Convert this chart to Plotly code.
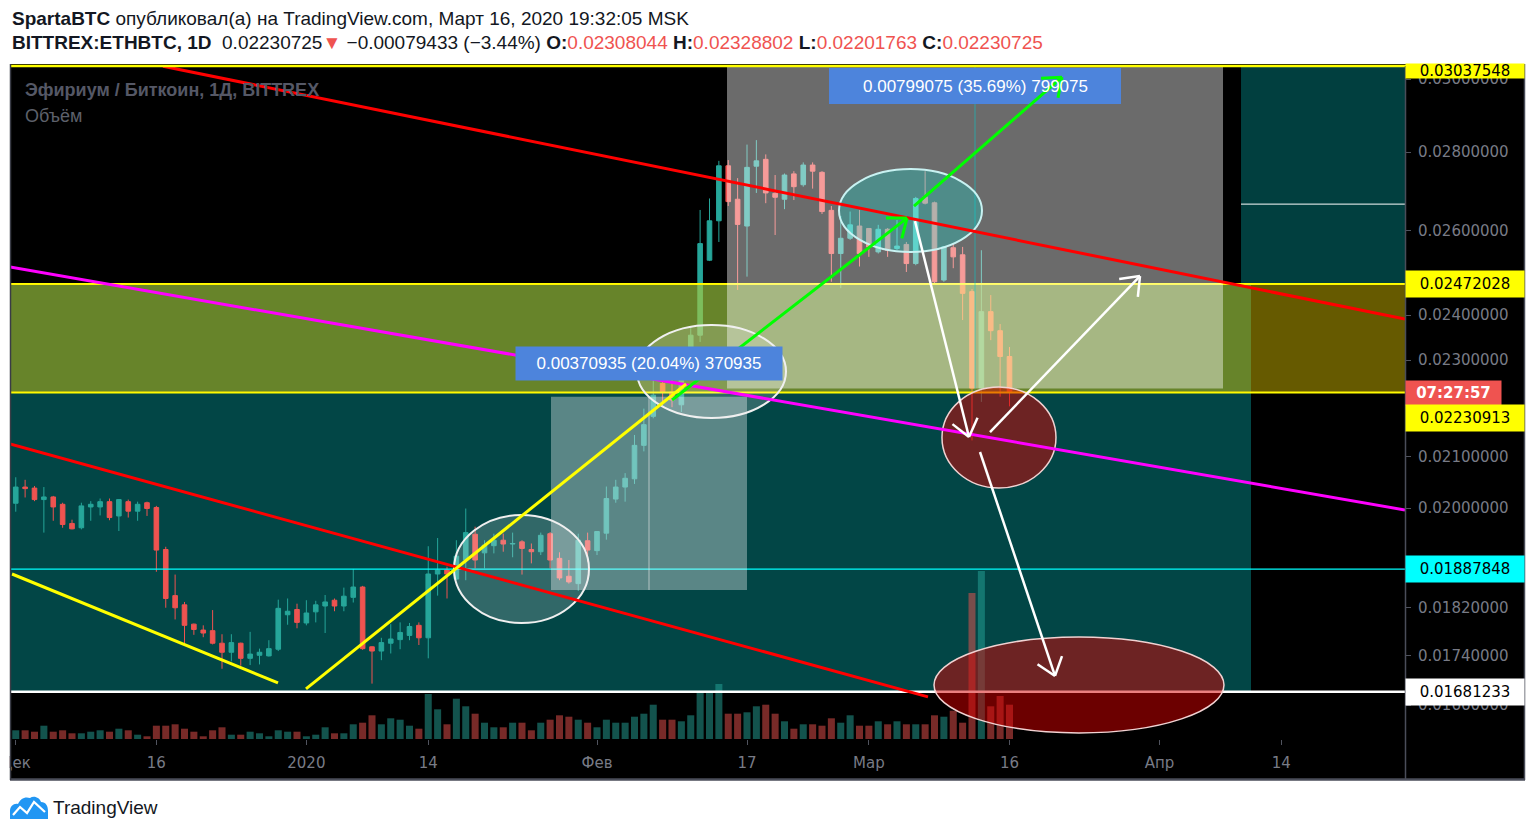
import numpy as np
import pandas as pd
import plotly.graph_objects as go

# ---------------- data ----------------
dates = pd.date_range("2019-12-01", "2020-03-16", freq="D")

opens = [0.02009, 0.02040, 0.02038, 0.02016, 0.02021, 0.02007, 0.01971, 0.01963, 0.02002, 0.02002,
         0.02012, 0.01985, 0.02012, 0.01994, 0.02010, 0.02001, 0.01923, 0.01841, 0.01825, 0.01792,
         0.01782, 0.01781, 0.01760, 0.01745, 0.01760, 0.01735, 0.01740, 0.01739, 0.01750, 0.01808,
         0.01817,
         0.01794, 0.01813, 0.01823, 0.01833, 0.01823, 0.01838, 0.01856, 0.01754, 0.01747, 0.01760,
         0.01766, 0.01773, 0.01790, 0.01769, 0.01879, 0.01886, 0.01870, 0.01904, 0.01951, 0.01917,
         0.01930, 0.01940, 0.01933, 0.01937, 0.01923, 0.01919, 0.01952, 0.01907, 0.01875, 0.01862,
         0.01939,
         0.01921, 0.01953, 0.02017, 0.02040, 0.02056, 0.02122, 0.02181, 0.02250, 0.02232, 0.02205,
         0.02285, 0.02355, 0.02528, 0.02624, 0.02764, 0.02678, 0.02611, 0.02763, 0.02781, 0.02693,
         0.02678, 0.02743, 0.02715, 0.02766, 0.02747, 0.02650, 0.02544, 0.02581, 0.02611,
         0.02605, 0.02548, 0.02603, 0.02556, 0.02566, 0.02520, 0.02684, 0.02669, 0.02481, 0.02558,
         0.02541, 0.02454, 0.02240, 0.02408, 0.02365, 0.02308044]
highs = [0.02059, 0.02054, 0.02042, 0.02040, 0.02023, 0.02010, 0.01978, 0.02010, 0.02013, 0.02018,
         0.02018, 0.02017, 0.02016, 0.02012, 0.02012, 0.02004, 0.01928, 0.01878, 0.01830, 0.01793,
         0.01790, 0.01816, 0.01775, 0.01775, 0.01761, 0.01779, 0.01751, 0.01765, 0.01834, 0.01836,
         0.01827,
         0.01833, 0.01832, 0.01842, 0.01836, 0.01855, 0.01888, 0.01858, 0.01755, 0.01769, 0.01792,
         0.01795, 0.01794, 0.01795, 0.01929, 0.01944, 0.01892, 0.01940, 0.01999, 0.01965, 0.01940,
         0.01952, 0.01952, 0.01954, 0.01940, 0.01934, 0.01954, 0.01955, 0.01918, 0.01904, 0.01952,
         0.01954,
         0.01957, 0.02041, 0.02054, 0.02067, 0.02143, 0.02197, 0.02262, 0.02280, 0.02262, 0.02300,
         0.02375, 0.02651, 0.02680, 0.02777, 0.02779, 0.02732, 0.02820, 0.02832, 0.02794, 0.02740,
         0.02744, 0.02750, 0.02773, 0.02773, 0.02750, 0.02661, 0.02636, 0.02647, 0.02651,
         0.02606, 0.02614, 0.02606, 0.02626, 0.02572, 0.02684, 0.02750, 0.02672, 0.02562, 0.02568,
         0.02560, 0.02460, 0.02552, 0.02446, 0.02380, 0.02328802]
lows = [0.01993, 0.02020, 0.02013, 0.01954, 0.01976, 0.01963, 0.01960, 0.01960, 0.01976, 0.01986,
        0.01977, 0.01957, 0.01982, 0.01976, 0.01985, 0.01883, 0.01820, 0.01800, 0.01760, 0.01774,
        0.01770, 0.01758, 0.01718, 0.01730, 0.01723, 0.01724, 0.01725, 0.01738, 0.01747, 0.01791,
        0.01785,
        0.01790, 0.01795, 0.01777, 0.01814, 0.01814, 0.01829, 0.01749, 0.01694, 0.01732, 0.01743,
        0.01750, 0.01765, 0.01757, 0.01735, 0.01841, 0.01836, 0.01868, 0.01868, 0.01889, 0.01889,
        0.01916, 0.01919, 0.01909, 0.01878, 0.01898, 0.01913, 0.01889, 0.01868, 0.01862, 0.01849,
        0.01901,
        0.01913, 0.01941, 0.02010, 0.02012, 0.02046, 0.02110, 0.02177, 0.02210, 0.02200, 0.02190,
        0.02270, 0.02340, 0.02526, 0.02572, 0.02661, 0.02458, 0.02489, 0.02694, 0.02668, 0.02589,
        0.02653, 0.02676, 0.02710, 0.02705, 0.02641, 0.02477, 0.02462, 0.02577, 0.02513,
        0.02536, 0.02544, 0.02536, 0.02552, 0.02500, 0.02516, 0.02665, 0.02473, 0.02477, 0.02509,
        0.02389, 0.02132, 0.02211, 0.02344, 0.02222, 0.02201763]
closes = [0.02040, 0.02037, 0.02016, 0.02021, 0.02002, 0.01969, 0.01961, 0.02004, 0.02007, 0.02012,
          0.01982, 0.02016, 0.01994, 0.02007, 0.01999, 0.01922, 0.01836, 0.01820, 0.01790, 0.01783,
          0.01777, 0.01760, 0.01745, 0.01761, 0.01735, 0.01742, 0.01745, 0.01751, 0.01819, 0.01814,
          0.01795,
          0.01811, 0.01825, 0.01830, 0.01823, 0.01840, 0.01856, 0.01751, 0.01747, 0.01761, 0.01767,
          0.01778, 0.01788, 0.01769, 0.01879, 0.01886, 0.01879, 0.01911, 0.01954, 0.01904, 0.01931,
          0.01940, 0.01933, 0.01934, 0.01925, 0.01919, 0.01949, 0.01904, 0.01872, 0.01865, 0.01940,
          0.01922,
          0.01956, 0.02018, 0.02040, 0.02057, 0.02122, 0.02164, 0.02225, 0.02232, 0.02215, 0.02285,
          0.02355, 0.02568, 0.02624, 0.02764, 0.02672, 0.02615, 0.02760, 0.02777, 0.02694, 0.02683,
          0.02740, 0.02710, 0.02766, 0.02750, 0.02647, 0.02544, 0.02581, 0.02614, 0.02544,
          0.02560, 0.02603, 0.02552, 0.02562, 0.02520, 0.02680, 0.02668, 0.02477, 0.02560, 0.02536,
          0.02450, 0.02240, 0.02408, 0.02365, 0.02308, 0.02230725]
volumes = [8.7, 8.7, 7.3, 13.3, 7.3, 8.7, 5.7, 5.7, 7.3, 8.7,
           7.3, 10.3, 8.7, 4.3, 2.7, 13.3, 13.3, 14.7, 10.3, 7.3,
           2.7, 8.7, 11.7, 4.3, 4.3, 7.3, 5.7, 2.7, 8.7, 7.3,
           7.3,
           2.7, 4.3, 11.7, 5.7, 5.7, 14.7, 16.3, 23.7, 14.7, 20.7,
           19.3, 13.3, 10.3, 45.0, 29.7, 14.7, 40.3, 32.7, 25.3, 16.3,
           11.7, 11.7, 16.3, 16.3, 8.7, 16.3, 19.3, 23.7, 22.3, 19.3,
           16.3,
           11.7, 19.3, 16.3, 16.3, 22.3, 25.3, 34.3, 19.3, 19.3, 17.7,
           23.7, 46.0, 46.0, 55.0, 25.3, 25.3, 26.7, 32.7, 34.3, 25.3,
           17.7, 10.3, 14.7, 14.7, 13.3, 20.7, 16.3, 23.7, 13.3,
           13.3, 17.7, 14.7, 17.7, 14.7, 14.7, 14.7, 23.7, 22.3, 28.3,
           16.3, 146.0, 168.0, 32.7, 43.0, 34.3]

x_tick_dates = ["2019-12-01", "2019-12-16", "2020-01-01", "2020-01-14", "2020-02-01",
                "2020-02-17", "2020-03-01", "2020-03-16", "2020-04-01", "2020-04-14"]
x_tick_text = ["Дек", "16", "2020", "14", "Фев", "17", "Мар", "16", "Апр", "14"]
y_tick_vals = [0.0166, 0.0174, 0.0182, 0.0200, 0.0210, 0.0230, 0.0240, 0.0260, 0.0280, 0.0300]

# ---- user drawings (date, price anchors) ----
red_upper = [("2019-12-16 17:00", 0.03037), ("2020-04-27 04:30", 0.02391)]
red_lower = [("2019-11-30 09:20", 0.021247), ("2020-03-07 07:20", 0.016729)]
magenta_line = [("2019-11-30 09:20", 0.025116), ("2020-04-27 04:30", 0.019963)]
yellow_down = [("2019-11-30 14:25", 0.018790), ("2019-12-28 23:20", 0.016951)]
yellow_up = [("2019-12-31 23:00", 0.016856), ("2020-02-10 12:10", 0.022487)]
green_arrows = [[("2020-02-09 00:00", 0.022149), ("2020-03-05 01:35", 0.026307)],
                [("2020-03-05 19:30", 0.026607), ("2020-03-21 14:25", 0.030057)]]
white_arrows = [[("2020-03-05 22:05", 0.026232), ("2020-03-11 16:20", 0.021388)],
                [("2020-03-13 22:05", 0.021489), ("2020-03-29 22:05", 0.024904)],
                [("2020-03-12 20:30", 0.021087), ("2020-03-20 20:30", 0.017064)]]
# ellipses: x0, x1, price top, price bottom
ellipses_white = [("2020-01-16 18:00", "2020-01-31 03:30", 0.019869, 0.017939),
                  ("2020-02-05 06:25", "2020-02-21 03:50", 0.023776, 0.021775)]
ellipse_teal = ("2020-02-26 19:30", "2020-03-13 01:35", 0.027554, 0.025475)
ellipses_red = [("2020-03-08 19:10", "2020-03-20 23:00", 0.022423, 0.020382),
                ("2020-03-07 22:45", "2020-04-07 21:05", 0.017703, 0.016169)]
# price range tools: x0, x1, low, high, label
range_upper = ("2020-02-14 20:50", "2020-04-07 18:35", 0.02239, 0.03038, "0.00799075 (35.69%) 799075")
range_lower = ("2020-01-27 02:15", "2020-02-17 00:00", 0.01851, 0.02222, "0.00370935 (20.04%) 370935")
# horizontal levels
level_top = 0.03037548
level_prices = [0.02472028, 0.02230913, 0.01887848, 0.01681233]
level_colors = ["#ffff00", "#ffff00", "#00ffff", "#ffffff"]
level_widths = [2, 2, 1.3, 2.5]
zone_teal_end = "2020-04-10 18:15"
zone_right_start = "2020-04-09 16:40"
short_white_level = 0.026657
last_close = 0.02230725

# ---------------- geometry helpers (screen pixels; page body has an 8px margin) ----------------
BODY = 8
PLOT_L, PLOT_R, PLOT_T, PLOT_B = 10, 1405, 66, 739
X_START = pd.Timestamp("2019-11-30 09:17")
X_END = pd.Timestamp("2020-04-27 04:29")
P_LOW, P_HIGH = 0.016076, 0.03037548
LL, LH = np.log10(P_LOW), np.log10(P_HIGH)


def ts(d):
    return pd.Timestamp(d).strftime("%Y-%m-%d %H:%M:%S")


def px_x(d):
    return PLOT_L + (pd.Timestamp(d) - X_START) / (X_END - X_START) * (PLOT_R - PLOT_L)


def px_y(p):
    return PLOT_B - (np.log10(p) - LL) / (LH - LL) * (PLOT_B - PLOT_T)


def date_of(px):
    return X_START + (px - PLOT_L) / (PLOT_R - PLOT_L) * (X_END - X_START)


def price_of(py):
    return 10 ** (LL + (PLOT_B - py) / (PLOT_B - PLOT_T) * (LH - LL))


def paper_x(px):
    return (px - PLOT_L) / (PLOT_R - PLOT_L)


def paper_y(py):
    return (PLOT_B - py) / (PLOT_B - PLOT_T)


shapes = []
annotations = []


def seg(a, b, color, width, layer="above"):
    shapes.append(dict(type="line", xref="x", yref="y", x0=ts(a[0]), y0=a[1], x1=ts(b[0]), y1=b[1],
                       line=dict(color=color, width=width), layer=layer))


def arrow(a, b, color, width, length=21, angle=38):
    seg(a, b, color, width)
    x1, y1 = px_x(a[0]), px_y(a[1])
    x2, y2 = px_x(b[0]), px_y(b[1])
    dx, dy = x2 - x1, y2 - y1
    n = np.hypot(dx, dy)
    ux, uy = -dx / n, -dy / n
    for s in (1, -1):
        t = np.radians(angle) * s
        rx = ux * np.cos(t) - uy * np.sin(t)
        ry = ux * np.sin(t) + uy * np.cos(t)
        tip = (date_of(x2 + rx * length), price_of(y2 + ry * length))
        seg(b, tip, color, width)


def prect(x0, y0, x1, y1, color, layer="above"):
    shapes.append(dict(type="rect", xref="paper", yref="paper", x0=paper_x(x0), x1=paper_x(x1),
                       y0=paper_y(y0), y1=paper_y(y1), fillcolor=color, layer=layer, line=dict(width=0)))


def pline(x0, y0, x1, y1, color, width):
    shapes.append(dict(type="line", xref="paper", yref="paper", x0=paper_x(x0), x1=paper_x(x1),
                       y0=paper_y(y0), y1=paper_y(y1), line=dict(color=color, width=width), layer="above"))


# ---------------- background & zones ----------------
prect(10, 64, 1525, 780, "black", layer="below")
shapes.append(dict(type="rect", xref="x", yref="y", x0=ts(X_START - pd.Timedelta(days=2)), x1=ts(zone_teal_end),
                   y0=level_prices[3], y1=level_prices[0], fillcolor="#024646", line=dict(width=0), layer="below"))
shapes.append(dict(type="rect", xref="x", yref="y", x0=ts(zone_right_start), x1=ts(X_END + pd.Timedelta(days=2)),
                   y0=level_prices[0], y1=0.032, fillcolor="#013f3f", line=dict(width=0), layer="below"))

# ---------------- traces ----------------
fig = go.Figure()
fig.add_trace(go.Candlestick(
    x=dates, open=opens, high=highs, low=lows, close=closes,
    increasing=dict(line=dict(color="#26a69a", width=1), fillcolor="#26a69a"),
    decreasing=dict(line=dict(color="#ef5350", width=1), fillcolor="#ef5350"),
    whiskerwidth=0, showlegend=False, hoverinfo="skip"))
vol_colors = ["rgba(38,166,154,0.5)" if c >= o else "rgba(239,83,80,0.5)" for o, c in zip(opens, closes)]
fig.add_trace(go.Bar(x=dates, y=volumes, marker=dict(color=vol_colors, line=dict(width=0)),
                     width=0.75 * 86400000, yaxis="y2", showlegend=False, hoverinfo="skip"))

# ---------------- horizontal levels ----------------
for p, c, w in zip(level_prices, level_colors, level_widths):
    shapes.append(dict(type="line", xref="paper", yref="y", x0=0, x1=1, y0=p, y1=p,
                       line=dict(color=c, width=w), layer="above"))
seg((zone_right_start, short_white_level), (X_END + pd.Timedelta(days=2), short_white_level), "#ffffff", 1)

# yellow zone overlay
shapes.append(dict(type="rect", xref="paper", yref="y", x0=0, x1=1, y0=level_prices[1], y1=level_prices[0],
                   fillcolor="rgba(255,225,0,0.4)", line=dict(width=0), layer="above"))

# price range tools (box + centre line + label box)
for (x0, x1, lo, hi, txt), alpha, cl, bw, bh, on_top in [
        (range_upper, 0.42, "rgba(0,210,210,0.45)", 292, 36, False),
        (range_lower, 0.35, "rgba(230,230,230,0.55)", 266, 33, True)]:
    shapes.append(dict(type="rect", xref="x", yref="y", x0=ts(x0), x1=ts(x1), y0=lo, y1=hi,
                       fillcolor=f"rgba(255,255,255,{alpha})", line=dict(width=0), layer="above"))
    xm = pd.Timestamp(x0) + (pd.Timestamp(x1) - pd.Timestamp(x0)) / 2
    seg((xm, lo), (xm, hi), cl, 1.2)
    cx = px_x(xm)
    top = px_y(hi)
    cy = max(top - 33, PLOT_T + 20)
    ann = dict(xref="paper", yref="paper", x=paper_x(cx), y=paper_y(cy), text=txt,
               showarrow=False, xanchor="center", yanchor="middle",
               font=dict(family="Liberation Sans", size=17, color="white"))
    if on_top:
        ann.update(width=bw, height=bh, bgcolor="#4d84dc", borderpad=0)
    else:
        prect(cx - bw / 2, cy - bh / 2, cx + bw / 2, cy + bh / 2, "#4d84dc")
    annotations.append(ann)

# ellipses
for (x0, x1, pt, pb) in ellipses_white:
    shapes.append(dict(type="circle", xref="x", yref="y", x0=ts(x0), x1=ts(x1), y0=pb, y1=pt,
                       fillcolor="rgba(255,255,255,0.19)", line=dict(color="#f0f0f0", width=2), layer="above"))
x0, x1, pt, pb = ellipse_teal
shapes.append(dict(type="circle", xref="x", yref="y", x0=ts(x0), x1=ts(x1), y0=pb, y1=pt,
                   fillcolor="rgba(0,235,225,0.26)", line=dict(color="#c8f2f2", width=2), layer="above"))
for (x0, x1, pt, pb) in ellipses_red:
    shapes.append(dict(type="circle", xref="x", yref="y", x0=ts(x0), x1=ts(x1), y0=pb, y1=pt,
                       fillcolor="rgba(215,0,0,0.5)", line=dict(color="#f2d2d2", width=1.5), layer="above"))

# trend lines & arrows
seg(*red_upper, "#ff0000", 3)
seg(*red_lower, "#ff0000", 3)
seg(*magenta_line, "#ff00ff", 3)
seg(*yellow_down, "#ffff00", 3)
seg(*yellow_up, "#ffff00", 3)
for a, b in green_arrows:
    arrow(a, b, "#00ff00", 3)
for a, b in white_arrows:
    arrow(a, b, "#ffffff", 2.5)

# top level line (chart top)
pline(10, 66, 1525, 66, "#ffff00", 2.5)

# frame
prect(-12, 740, 9.6, 779, "white")
pline(1405.5, 66, 1405.5, 780, "#4a4d59", 1.5)
pline(10, 779.5, 1525, 779.5, "#4a4d59", 2.5)
pline(1524.5, 64, 1524.5, 780, "#4a4d59", 1.5)
pline(10.5, 64, 10.5, 780, "#3a3c46", 1.5)


# ---------------- price axis labels ----------------
def axis_label(text, cy, bg, fg="black", width=118, height=26, bold=False):
    annotations.append(dict(xref="paper", yref="paper", x=paper_x(1405), y=paper_y(cy),
                            text=f"<b>{text}</b>" if bold else text,
                            showarrow=False, xanchor="left", yanchor="middle", width=width, height=height,
                            bgcolor=bg, borderpad=0, font=dict(family="DejaVu Sans", size=15, color=fg)))


axis_label(f"{level_top:.8f}", 71, "#ffff00", height=14)
axis_label(f"{level_prices[0]:.8f}", px_y(level_prices[0]), "#ffff00")
axis_label("07:27:57", px_y(last_close), "#ef5350", fg="white", width=95, height=24, bold=True)
axis_label(f"{level_prices[1]:.8f}", px_y(level_prices[1]) + 25.5, "#ffff00")
axis_label(f"{level_prices[2]:.8f}", px_y(level_prices[2]), "#00ffff")
axis_label(f"{level_prices[3]:.8f}", px_y(level_prices[3]), "#ffffff")

# ---------------- texts ----------------
RED = "#ef5350"
HDR = dict(family="Liberation Sans", size=19, color="#131722")
annotations.append(dict(xref="paper", yref="paper", x=paper_x(10), y=paper_y(18), xanchor="left", yanchor="middle",
                        showarrow=False, font=HDR,
                        text="<b>SpartaBTC</b> опубликовал(а) на TradingView.com, Март 16, 2020 19:32:05 MSK"))
annotations.append(dict(xref="paper", yref="paper", x=paper_x(10), y=paper_y(43), xanchor="left", yanchor="middle",
                        showarrow=False, font=HDR,
                        text=("<b>BITTREX:ETHBTC, 1D</b>  0.02230725"
                              f"<span style='color:{RED}'>▼</span> −0.00079433 (−3.44%) "
                              f"<b>O:</b><span style='color:{RED}'>0.02308044</span> "
                              f"<b>H:</b><span style='color:{RED}'>0.02328802</span> "
                              f"<b>L:</b><span style='color:{RED}'>0.02201763</span> "
                              f"<b>C:</b><span style='color:{RED}'>0.02230725</span>")))
annotations.append(dict(xref="paper", yref="paper", x=paper_x(23), y=paper_y(90), xanchor="left", yanchor="middle",
                        showarrow=False, text="<b>Эфириум / Биткоин, 1Д, BITTREX</b>",
                        font=dict(family="Liberation Sans", size=18, color="#555866")))
annotations.append(dict(xref="paper", yref="paper", x=paper_x(23), y=paper_y(116), xanchor="left", yanchor="middle",
                        showarrow=False, text="Объём",
                        font=dict(family="Liberation Sans", size=18, color="#5d606b")))
annotations.append(dict(xref="paper", yref="paper", x=paper_x(51), y=paper_y(807), xanchor="left", yanchor="middle",
                        showarrow=False, text="TradingView",
                        font=dict(family="Liberation Sans", size=19, color="#131722")))


# TradingView logo icon
def ppath(cmds):
    out = []
    for c in cmds:
        if isinstance(c, str):
            out.append(c)
        else:
            out.append(f"{paper_x(c[0]):.5f},{paper_y(c[1]):.5f}")
    return " ".join(out)


logo = ppath(["M", (10, 819), "L", (10, 811), "C", (10, 806), (14, 803), (18, 804),
              "C", (20, 799), (25, 796), (30, 798), "C", (34, 795), (40, 798), (41, 802),
              "C", (46, 802), (48, 806), (48, 811), "L", (48, 819), "Z"])
shapes.append(dict(type="path", xref="paper", yref="paper", path=logo, fillcolor="#2196f3",
                   line=dict(width=0), layer="above"))
zig = ppath(["M", (13, 815), "L", (20, 807), "L", (27, 813), "L", (34, 802), "L", (45, 812)])
shapes.append(dict(type="path", xref="paper", yref="paper", path=zig, line=dict(color="white", width=2.2),
                   layer="above"))

fig.update_layout(
    width=1534 - BODY, height=835 - BODY,
    margin=dict(l=PLOT_L - BODY, r=1534 - PLOT_R, t=PLOT_T - BODY, b=835 - PLOT_B, pad=0, autoexpand=False),
    paper_bgcolor="white", plot_bgcolor="black",
    font=dict(family="DejaVu Sans", size=15, color="#787b86"),
    showlegend=False,
    xaxis=dict(type="date", range=[ts(X_START), ts(X_END)], rangeslider=dict(visible=False),
               showgrid=False, zeroline=False, showline=False, automargin=False,
               tickmode="array", tickvals=x_tick_dates, ticktext=x_tick_text,
               ticks="outside", ticklen=5, tickcolor="#50535e", tickwidth=1, ticklabeloverflow="allow",
               tickfont=dict(family="DejaVu Sans", size=15, color="#787b86"), ticklabelstandoff=5),
    yaxis=dict(type="log", range=[LL, LH], side="right", showgrid=False, zeroline=False, showline=False,
               automargin=False,
               tickmode="array", tickvals=y_tick_vals, ticktext=[f"{v:.8f}" for v in y_tick_vals],
               ticks="outside", ticklen=5, tickcolor="#50535e",
               tickfont=dict(family="DejaVu Sans", size=15, color="#787b86"), ticklabelstandoff=4),
    yaxis2=dict(overlaying="y", range=[0, PLOT_B - PLOT_T], visible=False, fixedrange=True),
    shapes=shapes, annotations=annotations,
)

fig.write_html("out.html")
